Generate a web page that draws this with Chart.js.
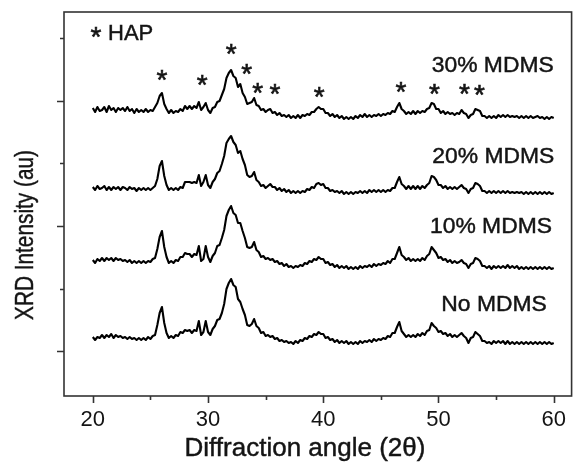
<!DOCTYPE html>
<html>
<head>
<meta charset="utf-8">
<script src="https://cdn.jsdelivr.net/npm/chart.js@4.4.0/dist/chart.umd.min.js"></script>
<style>
  html, body { margin: 0; padding: 0; background: #fff; }
</style>
</head>
<body>
<canvas id="line-chart" width="577" height="464"></canvas>
<script>
// scans, 2theta = 20..60 deg, one value every 0.2 deg
var angleStart = 20;
var angleStep = 0.2;

var mdms30 = [
  292,288,293,289,290,293,288,294,290,292, 288,292,290,292,289,293,289,291,287,291,
  288,290,288,291,288,290,289,293,297,304, 307,296,291,287,290,287,289,288,291,289,
  294,291,294,291,294,292,298,290,293,297, 290,287,292,293,298,299,305,311,322,327,
  330,324,322,313,316,307,303,296,297,298, 302,295,294,290,291,288,290,291,287,288,
  285,287,284,285,283,285,282,284,282,285, 282,285,284,286,285,288,288,291,293,291,
  291,287,287,284,286,283,285,282,284,281, 283,281,283,281,284,282,285,283,286,283,
  285,283,285,284,286,284,286,285,287,286, 289,288,293,297,291,289,286,288,286,289,
  286,289,287,289,288,291,292,297,296,291, 291,287,289,286,288,286,287,285,287,286,
  290,287,286,282,285,286,291,290,289,284, 284,282,284,282,284,282,285,283,285,283,
  285,283,284,283,284,282,284,282,284,282, 284,282,283,284,282,283,281,283,281,283,
  282
];
var mdms20 = [
  213,210,214,211,212,214,210,213,210,213, 211,213,210,213,212,210,213,211,212,209,
  212,210,212,210,212,210,212,214,221,234, 239,224,215,210,212,210,212,210,213,212,
  218,218,218,217,218,217,225,214,218,225, 215,212,218,221,227,229,236,244,257,261,
  264,258,255,247,249,241,235,225,223,224, 228,220,218,214,215,212,214,216,213,213,
  210,212,209,211,208,210,207,209,207,209, 207,209,208,211,210,213,212,216,217,215,
  216,212,212,209,210,208,209,207,209,206, 208,206,208,206,208,207,209,207,209,207,
  210,208,210,208,210,208,210,208,210,209, 212,212,218,223,216,214,211,214,211,214,
  211,214,211,214,212,215,217,224,223,220, 215,215,212,214,211,213,211,213,211,213,
  215,212,211,207,211,212,217,216,214,209, 209,207,209,207,209,207,209,207,209,207,
  209,207,208,207,208,207,208,206,208,206, 208,206,208,206,208,206,208,206,208,206,
  207
];
var mdms10 = [
  140,137,141,139,142,139,142,140,142,139, 142,140,141,139,140,138,140,137,139,137,
  139,137,139,137,139,138,141,142,151,163, 169,153,143,137,139,137,140,139,143,143,
  147,146,146,143,146,145,154,139,141,154, 143,138,144,147,154,155,162,170,184,190,
  194,187,185,177,177,169,162,153,152,153, 158,150,148,143,144,141,142,140,141,138,
  139,136,137,134,136,133,134,132,134,133, 135,134,137,136,139,138,141,140,143,141,
  141,137,138,135,136,133,135,132,134,132, 134,131,133,131,133,131,134,132,134,133,
  135,133,136,134,136,135,137,136,139,137, 141,141,147,153,145,143,140,142,139,141,
  139,141,139,142,140,144,146,153,150,147, 142,143,140,141,138,140,137,139,137,138,
  140,137,136,132,136,137,142,141,139,134, 134,132,134,131,134,132,134,132,134,132,
  135,132,134,132,134,131,133,131,133,131, 133,131,133,131,133,131,133,131,133,131,
  132
];
var noMdms = [
  63,60,63,62,65,62,65,63,66,62, 65,63,64,62,63,61,63,61,62,60,
  62,60,62,60,63,61,64,65,75,87, 93,77,67,62,64,62,65,64,68,67,
  70,69,70,67,70,69,79,65,68,79, 68,65,71,74,80,81,87,96,111,117,
  121,115,113,101,98,91,85,75,74,76, 81,74,72,67,68,64,65,63,64,61,
  62,59,60,58,59,57,58,56,59,57, 60,59,62,61,64,63,66,65,68,66,
  66,62,63,60,61,58,60,57,59,57, 59,56,58,56,58,56,59,57,59,58,
  60,58,61,59,61,60,62,61,64,63, 67,67,73,78,69,66,63,65,63,65,
  63,66,64,67,65,69,70,77,74,72, 68,69,66,67,64,66,63,65,63,65,
  67,64,62,57,62,63,68,66,64,59, 59,57,58,56,59,57,59,57,59,56,
  59,56,58,56,58,56,58,56,58,56, 58,56,58,56,58,56,58,56,58,56,
  57
];

// HAP reflections marked with * on the top scan
var hapAngle = [26.0, 29.5, 32.0, 33.35, 34.3, 35.8, 39.65, 46.75, 49.65, 52.25, 53.55];
var hapMark = [325, 320, 351, 331, 312, 311, 308, 313, 311, 311, 310];

var xTickLabels = [20, 30, 40, 50, 60];
var xMinorTicks = [25, 35, 45, 55];
var yMajorTicks = [49, 174, 299];
var yMinorTicks = [111, 237, 362];

var FONT = '"Liberation Sans", Arial, Helvetica, sans-serif';
var INK = '#141414';

function toPoints(values) {
  var pts = [];
  for (var i = 0; i < values.length; i++) {
    pts.push({ x: Math.round((angleStart + i * angleStep) * 10) / 10, y: values[i] });
  }
  return pts;
}

function scan(label, values) {
  return {
    label: label,
    data: toPoints(values),
    borderColor: '#000',
    borderWidth: 2.1,
    borderJoinStyle: 'round',
    pointRadius: 0,
    tension: 0,
    fill: false
  };
}

// text drawn a bit wider and heavier than the plain font, like the original figure
function wideText(ctx, txt, x, y, align, sx) {
  ctx.save();
  ctx.translate(x, y);
  ctx.scale(sx, 1);
  ctx.textAlign = align;
  ctx.textBaseline = 'alphabetic';
  ctx.strokeStyle = INK;
  ctx.lineWidth = 0.45;
  ctx.fillText(txt, 0, 0);
  ctx.strokeText(txt, 0, 0);
  ctx.restore();
}

function star(ctx, x, y) {
  ctx.font = '28px ' + FONT;
  var m = ctx.measureText('*');
  var off = (m.actualBoundingBoxAscent - m.actualBoundingBoxDescent) / 2;
  ctx.textAlign = 'center';
  ctx.textBaseline = 'alphabetic';
  ctx.strokeStyle = INK;
  ctx.lineWidth = 0.6;
  ctx.fillText('*', x, y + off);
  ctx.strokeText('*', x, y + off);
}

var xrdDecor = {
  id: 'xrdDecor',
  afterDraw: function (chart) {
    var ctx = chart.ctx;
    var a = chart.chartArea;
    var xs = chart.scales.x;
    var ys = chart.scales.y;
    ctx.save();

    // frame
    ctx.strokeStyle = '#333';
    ctx.lineWidth = 1.6;
    ctx.strokeRect(a.left, a.top, a.right - a.left, a.bottom - a.top);

    // outward ticks
    ctx.beginPath();
    xTickLabels.forEach(function (v) {
      var p = Math.round(xs.getPixelForValue(v)) + 0.5;
      ctx.moveTo(p, a.bottom); ctx.lineTo(p, a.bottom + 7);
    });
    xMinorTicks.forEach(function (v) {
      var p = Math.round(xs.getPixelForValue(v)) + 0.5;
      ctx.moveTo(p, a.bottom); ctx.lineTo(p, a.bottom + 4);
    });
    yMajorTicks.forEach(function (v) {
      var p = Math.round(ys.getPixelForValue(v)) + 0.5;
      ctx.moveTo(a.left, p); ctx.lineTo(a.left - 7, p);
    });
    yMinorTicks.forEach(function (v) {
      var p = Math.round(ys.getPixelForValue(v)) + 0.5;
      ctx.moveTo(a.left, p); ctx.lineTo(a.left - 4, p);
    });
    ctx.stroke();

    ctx.fillStyle = INK;

    // curve labels, right aligned near 60 deg
    ctx.font = '22px ' + FONT;
    var names = [
      ['30% MDMS', 60.0, 336],
      ['20% MDMS', 60.05, 245],
      ['10% MDMS', 59.85, 175],
      ['No MDMS', 59.4, 97]
    ];
    names.forEach(function (n) {
      wideText(ctx, n[0], xs.getPixelForValue(n[1]), ys.getPixelForValue(n[2]) + 8, 'right', 1.04);
    });

    // legend for the markers
    star(ctx, 96, 32);
    ctx.font = '22px ' + FONT;
    wideText(ctx, 'HAP', 108, 40, 'left', 1.0);

    for (var i = 0; i < hapAngle.length; i++) {
      star(ctx, xs.getPixelForValue(hapAngle[i]), ys.getPixelForValue(hapMark[i]));
    }

    // axis titles
    ctx.font = '26px ' + FONT;
    wideText(ctx, 'Diffraction angle (2\u03b8)', 305, 456, 'center', 1.0);

    ctx.save();
    ctx.translate(33, 235);
    ctx.rotate(-Math.PI / 2);
    ctx.scale(0.8, 1);
    ctx.font = '26px ' + FONT;
    ctx.textAlign = 'center';
    ctx.textBaseline = 'alphabetic';
    ctx.strokeStyle = INK;
    ctx.lineWidth = 0.45;
    ctx.fillText('XRD Intensity (au)', 0, 0);
    ctx.strokeText('XRD Intensity (au)', 0, 0);
    ctx.restore();

    ctx.restore();
  }
};

new Chart(document.getElementById('line-chart'), {
  type: 'line',
  data: {
    datasets: [
      scan('No MDMS', noMdms),
      scan('10% MDMS', mdms10),
      scan('20% MDMS', mdms20),
      scan('30% MDMS', mdms30)
    ]
  },
  options: {
    responsive: false,
    animation: false,
    devicePixelRatio: 1,
    layout: { padding: { top: 12, right: 1, left: 0, bottom: 0 } },
    plugins: {
      legend: { display: false },
      tooltip: { enabled: false }
    },
    scales: {
      x: {
        type: 'linear',
        min: 17.5,
        max: 61.55,
        afterFit: function (s) { s.height = 68; },
        afterBuildTicks: function (s) {
          s.ticks = xTickLabels.map(function (v) { return { value: v }; });
        },
        grid: { display: false, drawTicks: false },
        border: { display: false },
        ticks: {
          padding: 11,
          color: INK,
          maxRotation: 0,
          font: { family: FONT, size: 22 }
        }
      },
      y: {
        type: 'linear',
        min: 4,
        max: 388,
        afterFit: function (s) { s.width = 64; },
        grid: { display: false, drawTicks: false },
        border: { display: false },
        ticks: { display: false }
      }
    }
  },
  plugins: [xrdDecor]
});
</script>
</body>
</html>
